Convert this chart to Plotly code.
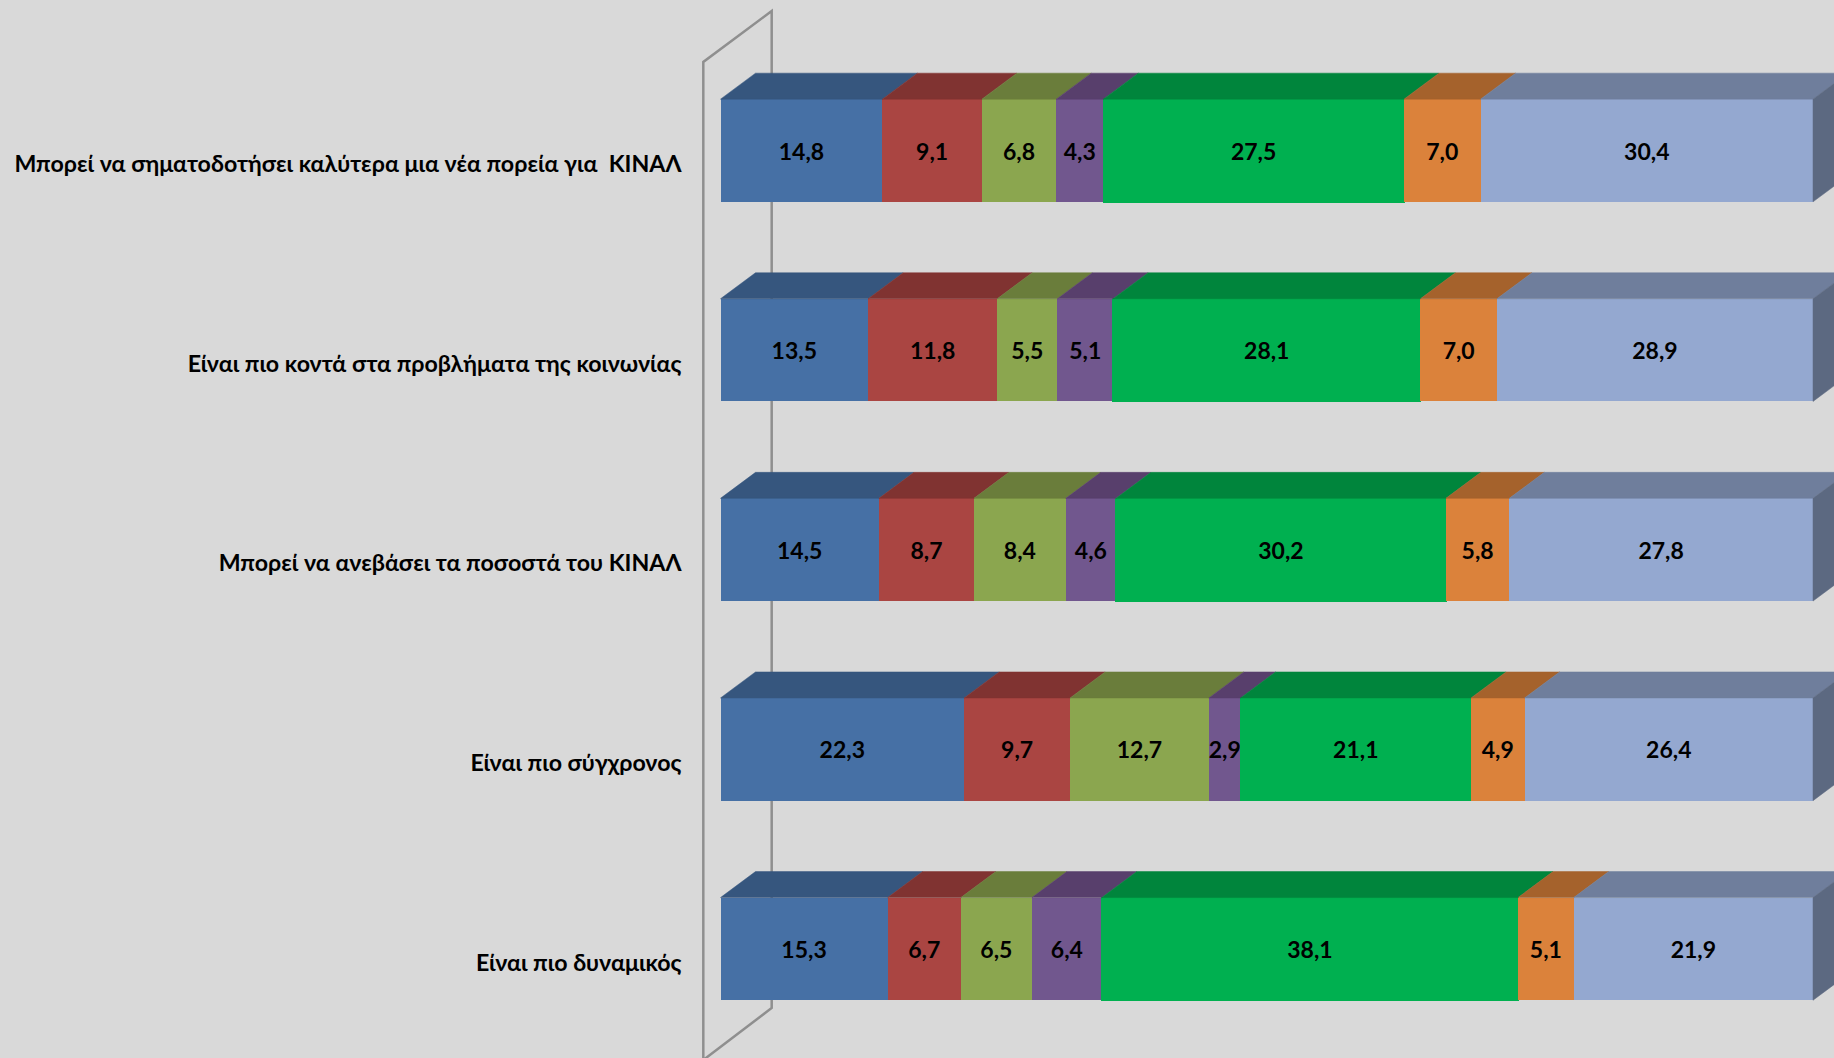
import plotly.graph_objects as go

categories = [
    "Μπορεί να σηματοδοτήσει καλύτερα μια νέα πορεία για  ΚΙΝΑΛ",
    "Είναι πιο κοντά στα προβλήματα της κοινωνίας",
    "Μπορεί να ανεβάσει τα ποσοστά του ΚΙΝΑΛ",
    "Είναι πιο σύγχρονος",
    "Είναι πιο δυναμικός",
]
s1 = [14.8, 13.5, 14.5, 22.3, 15.3]
s2 = [9.1, 11.8, 8.7, 9.7, 6.7]
s3 = [6.8, 5.5, 8.4, 12.7, 6.5]
s4 = [4.3, 5.1, 4.6, 2.9, 6.4]
s5 = [27.5, 28.1, 30.2, 21.1, 38.1]
s6 = [7.0, 7.0, 5.8, 4.9, 5.1]
s7 = [30.4, 28.9, 27.8, 26.4, 21.9]
series = [s1, s2, s3, s4, s5, s6, s7]
front = ["#4670A5", "#AA4542", "#8BA64F", "#71578E", "#00B050", "#DB823B", "#94A8D0"]
top = ["#36567E", "#803331", "#6A7D3B", "#583F6C", "#00853C", "#A5622C", "#6F7E9C"]
side = "#5C6981"
bg = "#D9D9D9"

W, H = 1834, 1058
X0, PX_PER_PCT = 720.5, 10.925
Y0, PX_PER_ROW, BAR_PX = 150.5, 199.6, 102.7
DX_PX, DY_PX = 35, 26
LABEL_DROP_PX = 13.5
FONT = "Lato, 'Noto Sans', sans-serif"

bar_w = BAR_PX / PX_PER_ROW
dx = DX_PX / PX_PER_PCT
dy = DY_PX / PX_PER_ROW
xr = [-X0 / PX_PER_PCT, (W - X0) / PX_PER_PCT]
yr = [(H - Y0) / PX_PER_ROW, -Y0 / PX_PER_ROW]
rows = list(range(len(categories)))

fig = go.Figure()
for k, s in enumerate(series):
    fig.add_trace(go.Bar(
        y=rows, x=s, orientation="h", width=bar_w,
        marker=dict(color=front[k], line=dict(color=front[k], width=1.5 if k == 4 else 0)),
        text=[f"{v:.1f}".replace(".", ",") for v in s],
        textposition="inside", insidetextanchor="middle", textangle=0,
        constraintext="none",
        textfont=dict(family=FONT, size=23, color="black", weight="bold"),
        hoverinfo="skip", showlegend=False,
    ))

# Upper faces and right end, derived from the normalised stacks
totals = [sum(s[i] for s in series) for i in rows]
cum = [0.0 for _ in rows]
for k, s in enumerate(series):
    xs, ys = [], []
    for i in rows:
        a = cum[i]
        b = a + s[i] / totals[i] * 100
        cum[i] = b
        t = i - bar_w / 2
        xs += [a, b, b + dx, a + dx, a, None]
        ys += [t, t, t - dy, t - dy, t, None]
    fig.add_trace(go.Scatter(x=xs, y=ys, mode="lines", fill="toself", fillcolor=top[k],
                             line=dict(width=0.5, color=top[k]), hoverinfo="skip", showlegend=False))
xs, ys = [], []
for i in rows:
    t, b = i - bar_w / 2, i + bar_w / 2
    xs += [100, 100 + dx, 100 + dx, 100, 100, None]
    ys += [t, t - dy, b - dy, b, t, None]
fig.add_trace(go.Scatter(x=xs, y=ys, mode="lines", fill="toself", fillcolor=side,
                         line=dict(width=0.5, color=side), hoverinfo="skip", showlegend=False))

def px(x, y):
    return x / W, 1 - y / H

wall = [px(703.3, 1060), px(703.3, 62), px(771.7, 11), px(771.7, 1008), px(703.3, 1060)]
path = "M " + " L ".join(f"{a:.5f},{b:.5f}" for a, b in wall)
fig.add_shape(type="path", path=path, xref="paper", yref="paper", layer="below",
              line=dict(color="#8F8F8F", width=2.5))

fig.update_layout(
    width=W, height=H, barmode="stack", barnorm="percent",
    margin=dict(l=0, r=0, t=0, b=0, autoexpand=False),
    paper_bgcolor=bg, plot_bgcolor=bg,
    xaxis=dict(range=xr, visible=False, domain=[0, 1]),
    yaxis=dict(range=yr, anchor="free", position=681.5 / W, showgrid=False, zeroline=False,
               showline=False, ticks="",
               tickvals=[i + LABEL_DROP_PX / PX_PER_ROW for i in rows], ticktext=categories,
               tickfont=dict(family=FONT, size=23.2, color="black", weight="bold"),
               automargin=False),
)
fig.write_html("out.html", config=dict(displayModeBar=False),
               post_script="document.body.style.margin='0';document.body.style.overflow='hidden';document.body.style.background='#D9D9D9';")
